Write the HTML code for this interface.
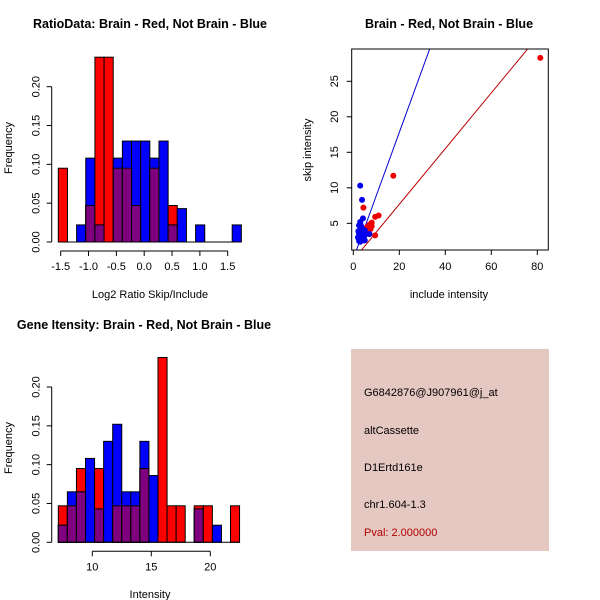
<!DOCTYPE html>
<html><head><meta charset="utf-8"><style>
body{margin:0;background:#fff}
svg{display:block;font-family:"Liberation Sans",sans-serif}
</style></head><body>
<svg id="c" width="600" height="600" xmlns="http://www.w3.org/2000/svg">
<rect width="600" height="600" fill="#fff"/>
<text x="150" y="28" font-size="12.5" font-weight="bold" text-anchor="middle">RatioData: Brain - Red, Not Brain - Blue</text>
<text x="449" y="28" font-size="12.5" font-weight="bold" text-anchor="middle">Brain - Red, Not Brain - Blue</text>
<text x="144" y="329" font-size="12.5" font-weight="bold" text-anchor="middle">Gene Itensity: Brain - Red, Not Brain - Blue</text>
<text x="150" y="298" font-size="11" text-anchor="middle">Log2 Ratio Skip/Include</text>
<text x="150" y="598" font-size="11" text-anchor="middle">Intensity</text>
<text x="449" y="298" font-size="11" text-anchor="middle">include intensity</text>
<text transform="translate(12,148) rotate(-90)" font-size="11" text-anchor="middle">Frequency</text>
<text transform="translate(12,448) rotate(-90)" font-size="11" text-anchor="middle">Frequency</text>
<text transform="translate(311,150) rotate(-90)" font-size="11" text-anchor="middle">skip intensity</text>
<g>
<rect x="351" y="349" width="198" height="202" fill="#e6c8c2"/>
<text x="364" y="396" font-size="11">G6842876@J907961@j_at</text>
<text x="364" y="434" font-size="11">altCassette</text>
<text x="364" y="471" font-size="11">D1Ertd161e</text>
<text x="364" y="508" font-size="11">chr1.604-1.3</text>
<text x="364" y="536" font-size="11" fill="#b00000">Pval: 2.000000</text>
</g>
</svg>
<script>
// Ratio histogram data (bin frequencies)
const ratioBinStart = -1.543;
const ratioBinWidth = 0.1644;
const ratioRed  = [0.095,0,0,0.047,0.238,0.238,0.095,0.095,0.047,0,0.095,0,0.047,0,0,0,0,0,0,0];
const ratioBlue = [0,0,0.022,0.108,0.022,0,0.108,0.13,0.13,0.13,0.108,0.13,0.022,0.043,0,0.022,0,0,0,0.022];
const ratioXTicks = [-1.5,-1.0,-0.5,0.0,0.5,1.0,1.5];
const ratioXLabels = ["-1.5","-1.0","-0.5","0.0","0.5","1.0","1.5"];
// Intensity histogram data
const intBinStart = 7.12;
const intBinWidth = 0.768;
const intRed  = [0.047,0.047,0.095,0,0.095,0,0.047,0.047,0.047,0.095,0,0.238,0.047,0.047,0,0.047,0.047,0,0,0.047];
const intBlue = [0.022,0.065,0.065,0.108,0.043,0.13,0.152,0.065,0.065,0.13,0.086,0,0,0,0,0.043,0,0.022,0,0];
const intXTicks = [10,15,20];
const freqTicks = [0,0.05,0.10,0.15,0.20];
const freqLabels = ["0.00","0.05","0.10","0.15","0.20"];
// Scatter data
const redX = [81.3,17.4,4.4,9.5,11,8,7,6,7.5,9.5,6.5,5.5,7,6,8];
const redY = [28.3,11.7,7.2,5.9,6.1,5.1,4.8,4.5,4.2,3.3,3.9,3.6,3.5,4.1,4.6];
const blueX = [3,3.8,4.2,3,2.5,3.5,4,3,2.5,3.5,2,4,2.5,3,4.5,7,5,5,4.5,3.5,5,2.2,3.2,4.2,2.8];
const blueY = [10.3,8.3,5.7,5.2,4.7,4.5,4.2,3.8,3.5,3.2,3,2.8,2.5,2.4,2.6,3.5,3.3,4,3.8,2.9,2.6,3.9,4.8,3.6,2.7];
const blueSlope = 0.89, redSlope = 0.392;
const scXTicks = [0,20,40,60,80];
const scYTicks = [5,10,15,20,25];

const svg = document.getElementById('c');
const NS = 'http://www.w3.org/2000/svg';
function mk(tag, attrs, parent){const e=document.createElementNS(NS,tag);for(const k in attrs)e.setAttribute(k,attrs[k]);(parent||svg).appendChild(e);return e;}

function hist(name, xs, start, w, red, blue, ticks, labels, y0, yScale, axisY){
  const g = mk('g',{});
  
  
  const ys = v => y0 - v*yScale;
  for(let i=0;i<red.length;i++){
    const a = xs(start+i*w), b = xs(start+(i+1)*w);
    const r = red[i], bl = blue[i];
    if(r>0){const e=mk('rect',{x:a,y:ys(r),width:b-a,height:r*yScale,fill:'#ff0000',stroke:'#000','stroke-width':1},g);
      
      }
    if(bl>0){const e=mk('rect',{x:a,y:ys(bl),width:b-a,height:bl*yScale,fill:'#0000ff',stroke:'#000','stroke-width':1},g);
      
      }
    const m = Math.min(r,bl);
    if(m>0){const e=mk('rect',{x:a,y:ys(m),width:b-a,height:m*yScale,fill:'#7f007f',stroke:'#000','stroke-width':1},g);
      
      }
  }
  mk('line',{x1:xs(start),x2:xs(start+red.length*w),y1:y0,y2:y0,stroke:'#000'},g);
  const ax = y0+9;
  mk('line',{x1:xs(ticks[0]),x2:xs(ticks[ticks.length-1]),y1:ax,y2:ax,stroke:'#000'},g);
  ticks.forEach((t,i)=>{mk('line',{x1:xs(t),x2:xs(t),y1:ax,y2:ax+5,stroke:'#000'},g);
    const tx=mk('text',{x:xs(t),y:ax+19,'font-size':11,'text-anchor':'middle'},g);tx.textContent=labels[i];
    
    });
  mk('line',{x1:axisY,x2:axisY,y1:ys(0),y2:ys(0.2),stroke:'#000'},g);
  freqTicks.forEach((t,i)=>{mk('line',{x1:axisY,x2:axisY-5,y1:ys(t),y2:ys(t),stroke:'#000'},g);
    const tx=mk('text',{transform:`translate(${axisY-12},${ys(t)}) rotate(-90)`,'font-size':11,'text-anchor':'middle'},g);tx.textContent=freqLabels[i];
    
    });
}
const yScale = (242-86.7)/0.2;
hist('ratio-histogram', v=>60.7+(v+1.5)*55.67, ratioBinStart, ratioBinWidth, ratioRed, ratioBlue, ratioXTicks, ratioXLabels, 242, yScale, 51.7);
hist('intensity-histogram', v=>92.3+(v-10)*11.8, intBinStart, intBinWidth, intRed, intBlue, intXTicks, intXTicks.map(String), 542.3, yScale, 51.7);

const sx = v=>353.3+v*2.3, sy = v=>223.3-(v-5)*7.1;
const sg = mk('g',{});


mk('defs',{},sg).innerHTML='<clipPath id="cp"><rect x="351.7" y="49" width="196.6" height="201"/></clipPath>';
const lg = mk('g',{'clip-path':'url(#cp)'},sg);
let e = mk('line',{x1:sx(0),y1:sy(0),x2:sx(100),y2:sy(100*blueSlope),stroke:'#0000cc'},lg);


e = mk('line',{x1:sx(0),y1:sy(-0.16),x2:sx(100),y2:sy(100*redSlope-0.16),stroke:'#bb0000'},lg);


redX.forEach((x,i)=>{const c=mk('circle',{cx:sx(x),cy:sy(redY[i]),r:3,fill:'#ee0000'},lg);
  
  });
blueX.forEach((x,i)=>{const c=mk('circle',{cx:sx(x),cy:sy(blueY[i]),r:3,fill:'#0000ee'},lg);
  
  });
mk('rect',{x:351.7,y:49,width:196.6,height:201,fill:'none',stroke:'#000'},sg);
scXTicks.forEach(t=>{mk('line',{x1:sx(t),x2:sx(t),y1:250,y2:255,stroke:'#000'},sg);
  const tx=mk('text',{x:sx(t),y:270,'font-size':11,'text-anchor':'middle'},sg);tx.textContent=t;
  
  });
scYTicks.forEach(t=>{mk('line',{x1:351.7,x2:346.7,y1:sy(t),y2:sy(t),stroke:'#000'},sg);
  const tx=mk('text',{transform:`translate(${338},${sy(t)}) rotate(-90)`,'font-size':11,'text-anchor':'middle'},sg);tx.textContent=t;
  
  });
</script>
</body></html>
